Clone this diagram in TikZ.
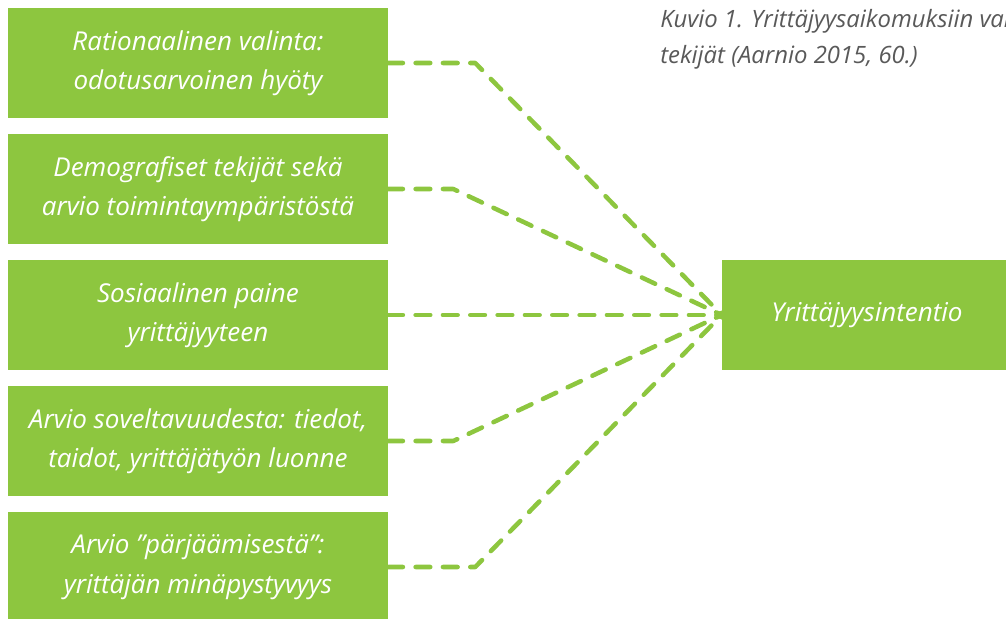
\documentclass[tikz,border=0pt]{standalone}
\usepackage{fontspec}
\setmainfont{Open Sans}
\definecolor{boxgreen}{HTML}{8DC63F}
\definecolor{captiongray}{HTML}{595959}

\begin{document}
\begin{tikzpicture}[x=0.75pt,y=-0.75pt,
	factor/.style={fill=boxgreen,text=white,minimum width=285pt,minimum height=82.5pt,inner sep=0pt,align=center,font=\itshape\fontsize{19.5}{29.5}\selectfont},
	link/.style={draw=boxgreen,line width=3.4pt,dash pattern=on 11pt off 9.5pt,line cap=round,line join=round}]
					% Page frame
					\useasboundingbox (0,0) rectangle (1006,618);
					\clip (0,0) rectangle (1006,618);
					
					% Draw factor boxes
					\foreach \name/\y/\txt in {rat/63/{Rationaalinen valinta:\\odotusarvoinen hyöty},
						dem/189/{Demografiset tekijät sekä\\arvio toimintaympäristöstä},
						soc/315/{Sosiaalinen paine\\yrittäjyyteen},
						app/441/{Arvio soveltavuudesta: tiedot,\\taidot, yrittäjätyön luonne},
						eff/567/{Arvio ”pärjäämisestä”:\\yrittäjän minäpystyvyys}}
						\node[factor] (\name) at (198,\y) {\txt};
					
					% Draw intention box
					\node[factor,minimum width=217.5pt] (goal) at (867,315) {Yrittäjyysintentio};
					
					% Draw connectors
					\draw[link] (rat.east) -- ++(87,0) -- (goal.west);
					\draw[link] (dem.east) -- ++(65,0) -- (goal.west);
					\draw[link] (soc.east) -- (goal.west);
					\draw[link] (app.east) -- ++(65,0) -- (goal.west);
					\draw[link] (eff.east) -- ++(87,0) -- (goal.west);
					\fill[boxgreen] (goal.west) circle (4.5);
					
					% Caption
					\node[anchor=north west,align=left,inner sep=0pt,text=captiongray,font=\itshape\fontsize{17.9}{27}\selectfont] (caption) at (660,9) {Kuvio 1. Yrittäjyysaikomuksiin vaikuttavat\\tekijät (Aarnio 2015, 60.)};
				\end{tikzpicture}
\end{document}
